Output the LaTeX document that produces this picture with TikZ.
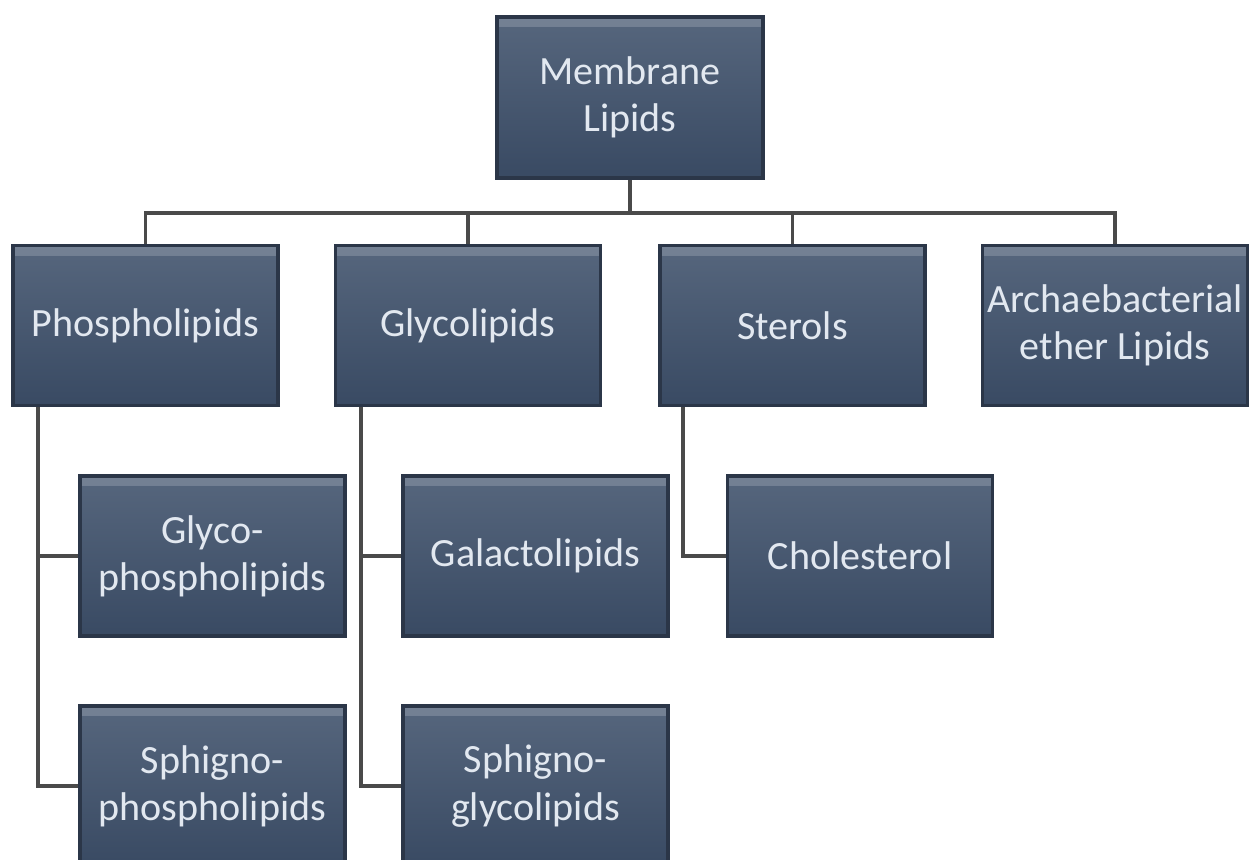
\documentclass[tikz,border=0pt]{standalone}
\usepackage{fontspec}
\setmainfont{Carlito}
\definecolor{boxtop}{HTML}{56667D}
\definecolor{boxmid}{HTML}{44546D}
\definecolor{boxbot}{HTML}{394A63}
\definecolor{boxedge}{HTML}{2B3648}
\definecolor{boxtext}{HTML}{E2E8F0}
\definecolor{linegray}{HTML}{4A4A4A}

\begin{document}
\begin{tikzpicture}[
  box/.style={rectangle, draw=boxedge, line width=1pt,
    top color=boxtop, middle color=boxmid, bottom color=boxbot,
    minimum width=2.65cm, minimum height=1.6cm, inner sep=0pt,
    align=center, text=boxtext, font=\fontsize{11.4}{13.4}\selectfont,
    path picture={\fill[white, opacity=0.18] (path picture bounding box.north west)
      rectangle ([yshift=-0.1cm]path picture bounding box.north east);}},
  conn/.style={draw=linegray, line width=1pt}
]
  \useasboundingbox (0,0) rectangle (12.55,8.59);
  % root
  \node[box, minimum width=2.66cm, minimum height=1.61cm] (root) at (6.30,7.615) {Membrane\\Lipids};
  % lipid classes
  \node[box] (phos) at (1.455,5.335) {Phospholipids};
  \node[box] (glyc) at (4.68,5.335) {Glycolipids};
  \node[box] (ster) at (7.925,5.335) {Sterols};
  \node[box] (arch) at (11.15,5.335) {Archaebacterial\\ether Lipids};
  % sub classes
  \node[box] (glyphos) at (2.125,3.03) {Glyco-\\phospholipids};
  \node[box] (sphphos) at (2.125,0.73) {Sphigno-\\phospholipids};
  \node[box] (galac) at (5.355,3.03) {Galactolipids};
  \node[box] (sphgly) at (5.355,0.73) {Sphigno-\\glycolipids};
  \node[box] (chol) at (8.60,3.03) {Cholesterol};
  % connectors
  \draw[conn] (root.south) -- ++(0,-0.33) coordinate (bus);
  \foreach \n in {phos,glyc,ster,arch}
    \draw[conn] (\n.north) |- (bus);
  \draw[conn] ([xshift=0.27cm]phos.south west) |- (glyphos.west);
  \draw[conn] ([xshift=0.27cm]phos.south west) |- (sphphos.west);
  \draw[conn] ([xshift=0.27cm]glyc.south west) |- (galac.west);
  \draw[conn] ([xshift=0.27cm]glyc.south west) |- (sphgly.west);
  \draw[conn] ([xshift=0.25cm]ster.south west) |- (chol.west);
\end{tikzpicture}
\end{document}
